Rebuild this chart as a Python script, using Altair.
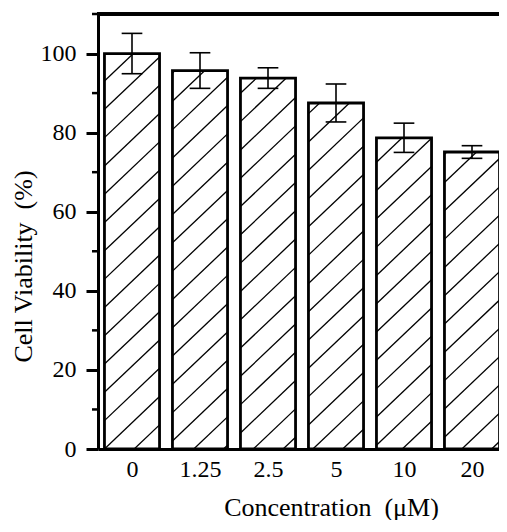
import altair as alt
import pandas as pd
import numpy as np

# ---- data ----
categories = ["0", "1.25", "2.5", "5", "10", "20"]
viability = [100.0, 95.7, 93.8, 87.5, 78.7, 75.1]
errors = [5.1, 4.5, 2.6, 4.8, 3.7, 1.6]
y_major = [0, 20, 40, 60, 80, 100]
y_minor = [10, 30, 50, 70, 90, 110]

# ---- layout / style constants ----
X_MIN, X_MAX = -0.5, 5.397
Y_MAX = 110
W, H = 401, 435
BAR_HALF = 0.405
CAP_HALF = 0.152
FONT = "Liberation Serif"

px_x = W / (X_MAX - X_MIN)
px_y = H / Y_MAX

bars = pd.DataFrame({"pos": list(range(len(categories))), "cat": categories,
                     "v": viability, "e": errors})
bars["base"] = 0.0
bars["x0"] = bars.pos - BAR_HALF
bars["x1"] = bars.pos + BAR_HALF
bars["lo"] = bars.v - bars.e
bars["hi"] = bars.v + bars.e
bars["c0"] = bars.pos - CAP_HALF
bars["c1"] = bars.pos + CAP_HALF

minor = pd.DataFrame({"m": y_minor})

# ---- hatch pattern (diagonal lines clipped to each bar) ----
SLOPE = 0.95
GAP = 28.3
PHASE = -6.05
rows = []
for _, r in bars.iterrows():
    a = (r.x0 - X_MIN) * px_x
    b = (r.x1 - X_MIN) * px_x
    h = r.v * px_y
    kmin = int(np.floor((0 - SLOPE * b - PHASE) / GAP)) - 1
    kmax = int(np.ceil((h - SLOPE * a - PHASE) / GAP)) + 1
    for k in range(kmin, kmax + 1):
        c = PHASE + k * GAP
        u0 = max(a, -c / SLOPE)
        u1 = min(b, (h - c) / SLOPE)
        if u1 - u0 > 0.5:
            rows.append({"hx0": u0 / px_x + X_MIN, "hx1": u1 / px_x + X_MIN,
                         "hy0": (SLOPE * u0 + c) / px_y, "hy1": (SLOPE * u1 + c) / px_y})
hatch = pd.DataFrame(rows)

xscale = alt.Scale(domain=[X_MIN, X_MAX], nice=False, zero=False)
yscale = alt.Scale(domain=[0, Y_MAX], nice=False)

label_expr = "[" + ",".join("'%s'" % c for c in categories) + "][datum.value]"

x_axis = alt.Axis(values=list(range(len(categories))), labelExpr=label_expr,
                  ticks=False, labelPadding=8, labelFlush=False, labelOverlap=False,
                  title="Concentration\u00a0 (\u03bcM)",
                  titleX=233, titleY=66, titleAlign="center", titleBaseline="alphabetic",
                  domainWidth=3, domainColor="black", labelFontSize=24, titleFontSize=26)
y_axis = alt.Axis(values=y_major, tickSize=12, tickWidth=3, labelPadding=10,
                  title="Cell Viability\u00a0 (%)",
                  titleX=-75, titleY=252, titleAlign="center", titleBaseline="middle",
                  domainWidth=3, domainColor="black", tickColor="black",
                  labelFontSize=24, titleFontSize=26)

fill = alt.Chart(bars).mark_rect(fill="white").encode(
    x=alt.X("x0:Q", scale=xscale, axis=x_axis), x2="x1",
    y=alt.Y("v:Q", scale=yscale, axis=y_axis), y2="base")

lines = alt.Chart(hatch).mark_rule(color="black", strokeWidth=1.3).encode(
    x=alt.X("hx0:Q", scale=xscale, axis=None), x2="hx1",
    y=alt.Y("hy0:Q", scale=yscale, axis=None), y2="hy1")

outline = alt.Chart(bars).mark_rect(stroke="black", strokeWidth=2.8, fillOpacity=0).encode(
    x=alt.X("x0:Q", scale=xscale, axis=None), x2="x1",
    y=alt.Y("v:Q", scale=yscale, axis=None), y2="base")

err = alt.Chart(bars).mark_rule(color="black", strokeWidth=1.6).encode(
    x=alt.X("pos:Q", scale=xscale, axis=None),
    y=alt.Y("lo:Q", scale=yscale, axis=None), y2="hi")

cap_hi = alt.Chart(bars).mark_rule(color="black", strokeWidth=1.6).encode(
    x=alt.X("c0:Q", scale=xscale, axis=None), x2="c1",
    y=alt.Y("hi:Q", scale=yscale, axis=None))

cap_lo = alt.Chart(bars).mark_rule(color="black", strokeWidth=1.6).encode(
    x=alt.X("c0:Q", scale=xscale, axis=None), x2="c1",
    y=alt.Y("lo:Q", scale=yscale, axis=None))

minor_ticks = alt.Chart(minor).mark_rule(color="black", strokeWidth=2.5).encode(
    x=alt.value(-6), x2=alt.value(0),
    y=alt.Y("m:Q", scale=yscale, axis=None))

top_line = alt.Chart(minor).mark_rule(color="black", strokeWidth=3).encode(
    x=alt.value(-1), x2=alt.value(W),
    y=alt.YDatum(Y_MAX, scale=yscale, axis=None))

chart = alt.layer(fill, lines, outline, err, cap_hi, cap_lo,
                  minor_ticks, top_line).resolve_axis(
    x="independent", y="independent").properties(
    width=W, height=H,
    autosize=alt.AutoSizeParams(type="none"),
    padding={"left": 90, "top": 6, "right": 0, "bottom": 71},
    background="white",
).configure_axis(
    labelFont=FONT, titleFont=FONT, labelColor="black", titleColor="black",
    titleFontWeight="normal", grid=False,
).configure_view(strokeWidth=0)

chart.save("out.html", embed_options={"renderer": "svg", "actions": False})
